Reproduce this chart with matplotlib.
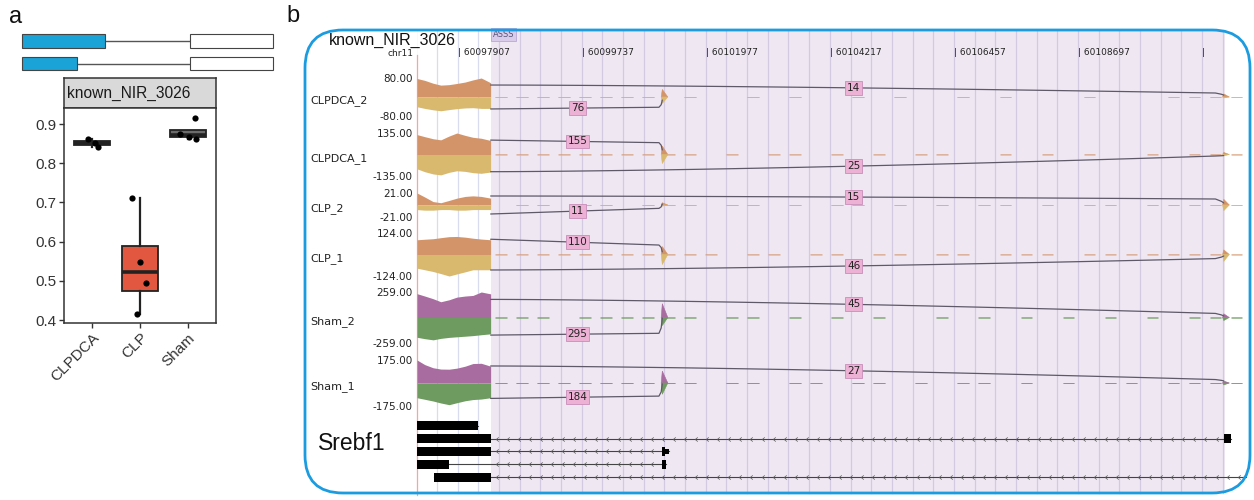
import numpy as np
import matplotlib
matplotlib.use("Agg")
import matplotlib.pyplot as plt
from matplotlib.patches import Rectangle, FancyBboxPatch
from matplotlib.path import Path

# ---------------- panel a: PSI values of known_NIR_3026 ----------------
groups = ["CLPDCA", "CLP", "Sham"]
psi_clpdca = [0.861, 0.851, 0.841]
psi_clp = [0.712, 0.549, 0.495, 0.416]
psi_sham = [0.874, 0.868, 0.863, 0.915]
jit_clpdca = [-0.08, 0.06, 0.13]
jit_clp = [-0.16, 0.0, 0.12, -0.07]
jit_sham = [-0.17, 0.02, 0.17, 0.15]
box_fill = ["#6B6B6B", "#E2573F", "#6B6B6B"]

# isoform sketch (relative coordinates): first exon (coding) and last exon
iso_first_exon = [(0, 83), (0, 55)]
iso_last_exon = [(168, 251), (168, 251)]

# ---------------- panel b: coverage / junction tracks ----------------
event_name = "known_NIR_3026"
chrom = "chr11"
win_start, win_end = 60096760, 60111750
donor_end = 60098090          # end of the alternative 5' splice region
acceptor_short = 60101190     # proximal acceptor
acceptor_long = 60111330      # distal acceptor (last exon)
tick_step = 2240
tick_labels = ["60097907", "60099737", "60101977", "60104217", "60106457", "60108697", ""]

samples = ["CLPDCA_2", "CLPDCA_1", "CLP_2", "CLP_1", "Sham_2", "Sham_1"]
scale_max = [80, 135, 21, 124, 259, 175]

exon_pos = [60096760, 60096900, 60097050, 60097190, 60097340,
            60097480, 60097630, 60097770, 60097920, 60098090]
cov_plus = [
    [78, 70, 58, 50, 52, 57, 63, 72, 80, 60],
    [125, 112, 99, 92, 116, 135, 120, 108, 102, 88],
    [21, 14, 6, 4, 8, 12, 15, 16, 15, 12],
    [85, 88, 91, 97, 103, 104, 100, 94, 89, 85],
    [242, 218, 191, 160, 180, 207, 218, 224, 259, 240],
    [175, 140, 116, 106, 105, 113, 128, 148, 150, 128],
]
cov_minus = [
    [41, 48, 54, 58, 53, 49, 46, 45, 48, 48],
    [90, 108, 122, 128, 112, 102, 106, 114, 118, 110],
    [8, 9, 9, 8, 8, 9, 9, 8, 8, 8],
    [79, 88, 98, 110, 124, 112, 100, 88, 88, 88],
    [201, 215, 227, 212, 202, 196, 190, 184, 175, 166],
    [112, 124, 137, 152, 165, 150, 135, 126, 122, 112],
]
# read depth over the intronic part of the window (36 equal bins)
intron_cov = [
    [1, 2, 1, 2, 1, 1, 2, 1, 0, 1, 0, 0, 1, 0, 1, 0, 0, 1, 0, 1, 0, 0, 1, 0, 1, 0, 0, 0, 1, 0, 0, 0, 1, 1, 2, 1],
    [2, 3, 2, 3, 2, 3, 2, 3, 1, 2, 0, 1, 0, 2, 1, 0, 1, 0, 2, 0, 1, 1, 0, 0, 1, 0, 1, 0, 1, 0, 0, 1, 0, 1, 2, 1],
    [0, 1, 1, 0, 1, 1, 0, 1, 1, 1, 0, 1, 1, 0, 1, 0, 1, 1, 0, 1, 0, 1, 0, 1, 1, 0, 1, 0, 1, 1, 0, 1, 1, 1, 1, 1],
    [2, 3, 2, 2, 3, 2, 2, 3, 1, 2, 1, 0, 2, 1, 0, 1, 1, 0, 2, 1, 0, 1, 1, 0, 2, 1, 1, 0, 2, 1, 1, 2, 2, 2, 3, 2],
    [3, 4, 3, 0, 3, 4, 3, 4, 2, 3, 0, 2, 3, 0, 2, 0, 3, 0, 2, 0, 0, 3, 0, 2, 0, 2, 0, 2, 0, 2, 0, 3, 0, 2, 3, 2],
    [3, 3, 2, 3, 3, 2, 3, 3, 2, 2, 0, 3, 2, 0, 2, 2, 0, 2, 3, 0, 2, 0, 2, 2, 0, 2, 0, 2, 0, 2, 2, 0, 2, 2, 3, 2],
]
peak_short_plus = [32, 53, 4, 46, 140, 91]
peak_short_minus = [27, 57, 2, 58, 82, 86]
peak_long_plus = [13, 13, 10, 27, 38, 15]
peak_long_minus = [4, 9, 10, 40, 31, 15]
junc_short_reads = [76, 155, 11, 110, 295, 184]
junc_long_reads = [14, 25, 15, 46, 45, 27]

gene_name = "Srebf1"
tx_exons = [
    [(60095000, 60097870)],
    [(60095000, 60098090), (60111330, 60111470)],
    [(60095000, 60098090), (60101190, 60101230)],
    [(60095000, 60097330), (60101190, 60101250)],
    [(60097070, 60098090)],
]
tx_utr = [[], [], [(60101230, 60101310)], [], []]
tx_span = [(60095000, 60097870), (60095000, 60111470), (60095000, 60101310),
           (60095000, 60101250), (60097070, 60114000)]

# ---------------- layout helpers ----------------
W, H = 1254, 500
fig = plt.figure(figsize=(W / 100, H / 100), dpi=100)
SANS = "Liberation Sans"
DJ = "DejaVu Sans"
INK = "#333333"


def axes_px(x0, y0, x1, y1):
    return fig.add_axes([x0 / W, 1 - y1 / H, (x1 - x0) / W, (y1 - y0) / H])


# ---------------- panel a ----------------
ax_iso = axes_px(22, 29.75, 273, 74.75)
ax_iso.set_xlim(0, 251)
ax_iso.set_ylim(1.5, -0.5)
ax_iso.axis("off")
for r in range(2):
    a0, a1 = iso_first_exon[r]
    b0, b1 = iso_last_exon[r]
    ax_iso.plot([a1, b0], [r, r], color="#555555", lw=1.0, zorder=1)
    ax_iso.add_patch(Rectangle((a0, r - 0.31), a1 - a0, 0.62, fc="#1AA3D6",
                               ec="#444444", lw=0.8, zorder=2, clip_on=False))
    ax_iso.add_patch(Rectangle((b0, r - 0.31), b1 - b0, 0.62, fc="white",
                               ec="#444444", lw=0.8, zorder=2, clip_on=False))

ax_strip = axes_px(64, 78, 216, 108)
ax_strip.set_facecolor("#D9D9D9")
ax_strip.set_xticks([])
ax_strip.set_yticks([])
for s in ax_strip.spines.values():
    s.set_color(INK)
    s.set_linewidth(1.1)
ax_strip.text(0.02, 0.48, event_name, transform=ax_strip.transAxes, ha="left",
              va="center", fontsize=11.2, family=SANS, color="#1A1A1A")

ax_box = axes_px(64, 108, 216, 323)
psi = [psi_clpdca, psi_clp, psi_sham]
jit = [jit_clpdca, jit_clp, jit_sham]
bp = ax_box.boxplot(psi, positions=[1, 2, 3], widths=0.75, patch_artist=True,
                    showfliers=False, whis=1.5,
                    medianprops=dict(color="#222222", lw=2.6),
                    boxprops=dict(edgecolor="#222222", lw=1.3),
                    whiskerprops=dict(color="#222222", lw=1.6),
                    capprops=dict(lw=0))
for patch, c in zip(bp["boxes"], box_fill):
    patch.set_facecolor(c)
for k in range(3):
    ax_box.scatter(np.array(jit[k]) + k + 1, psi[k], s=20, color="black",
                   zorder=5, lw=0)
ax_box.set_xlim(0.42, 3.58)
ax_box.set_ylim(0.3929, 0.9408)
ax_box.set_yticks([0.4, 0.5, 0.6, 0.7, 0.8, 0.9])
ax_box.set_yticklabels(["0.4", "0.5", "0.6", "0.7", "0.8", "0.9"],
                       fontsize=11, family=SANS, color=INK)
ax_box.set_xticks([1, 2, 3])
ax_box.set_xticklabels(groups, rotation=45, ha="right", va="top",
                       rotation_mode="anchor", fontsize=11, family=SANS, color=INK)
ax_box.tick_params(length=3.5, width=1.0, color=INK, pad=2)
for s in ax_box.spines.values():
    s.set_color(INK)
    s.set_linewidth(1.1)

# ---------------- panel b: background, ruler ----------------
ax_bg = axes_px(417, 29, 1247, 495)
ax_bg.set_xlim(win_start, win_end)
ax_bg.set_ylim(495, 29)
ax_bg.axis("off")
ax_bg.add_patch(Rectangle((donor_end, 30), acceptor_long + 20 - donor_end, 463,
                          fc="#EFE8F3", ec="none", zorder=0))
tick_pos = [acceptor_short - 3694 + tick_step * i for i in range(len(tick_labels))]
grid_x = np.arange(tick_pos[0] - 2 * tick_step / 6, acceptor_long, tick_step / 6)
for gx in grid_x:
    col = "#D9DBEE" if gx < donor_end else "#D3CAE2"
    ax_bg.plot([gx, gx], [30, 493], color=col, lw=0.9, zorder=1)
ax_bg.plot([win_start, win_start], [55, 495], color="#F2A7A7", lw=0.9,
           zorder=2, clip_on=False)
for tp, lab in zip(tick_pos, tick_labels):
    ax_bg.text(tp, 53, "| " + lab if lab else "|", ha="left", va="center",
               fontsize=6.5, family=DJ, color="#222222", zorder=3)
ax_bg.text(donor_end + 40, 34.5, "ASSS", ha="left", va="center", fontsize=6,
           family=DJ, color="#555577", zorder=3,
           bbox=dict(boxstyle="square,pad=0.25", fc="#D9CCEA", ec="#B9A9D6", lw=0.6))

# ---------------- coverage tracks ----------------
track_top = [78, 133, 193, 233, 292, 360]
track_bot = [116, 176, 217, 276, 343, 406]
palette = {"CLP": ("#D4946A", "#D8B96E"), "Sham": ("#A86CA0", "#6E9B5F")}
# junction geometry as fractions of the track half-height: (start, near end, end)
short_geom = [(-0.63, -0.54, -0.16), (0.67, 0.55, 0.21), (-0.75, -0.28, 0.08),
              (0.71, 0.44, 0.12), (-0.69, -0.62, -0.02), (-0.67, -0.57, -0.04)]
long_geom = [(0.63, 0.21, 0.10), (-0.80, -0.07, -0.05), (0.75, 0.50, 0.17),
             (-0.72, -0.19, -0.07), (0.71, 0.16, 0.06), (0.74, 0.15, 0.09)]
bpp = tick_step / 124.0
short_label_x = donor_end + 87 * bpp
long_label_x = donor_end + 363 * bpp
intron_edges = np.linspace(donor_end, win_end, len(intron_cov[0]) + 1)
JCOL = "#5E5868"

for i, name in enumerate(samples):
    ax = axes_px(417, track_top[i], 1247, track_bot[i])
    ax.patch.set_alpha(0)
    M = scale_max[i]
    ax.set_xlim(win_start, win_end)
    ax.set_ylim(-M, M)
    for s in ax.spines.values():
        s.set_visible(False)
    ax.set_xticks([])
    ax.set_yticks([M, -M])
    ax.set_yticklabels([f"{M:.2f}", f"{-M:.2f}"], fontsize=7.5, family=DJ,
                       color="#222222")
    ax.tick_params(axis="y", length=0, pad=3)
    up_c, lo_c = palette["Sham" if name.startswith("Sham") else "CLP"]

    ax.fill_between(exon_pos, 0, cov_plus[i], color=up_c, lw=0, zorder=2)
    ax.fill_between(exon_pos, 0, -np.array(cov_minus[i]), color=lo_c, lw=0, zorder=2)

    # sparse intronic reads: thin fragments hugging the baseline
    for b, v in enumerate(intron_cov[i]):
        if v <= 0:
            continue
        e0, e1 = intron_edges[b], intron_edges[b + 1]
        pad = (e1 - e0) * 0.22
        ax.plot([e0 + pad, e1 - pad], [v / 2, v / 2], color=up_c, lw=0.6,
                alpha=0.75, zorder=2, solid_capstyle="butt")
        ax.plot([e0 + pad, e1 - pad], [-v / 2, -v / 2], color=lo_c, lw=0.6,
                alpha=0.75, zorder=2, solid_capstyle="butt")

    for a, hp, hm in [(acceptor_short, peak_short_plus[i], peak_short_minus[i]),
                      (acceptor_long, peak_long_plus[i], peak_long_minus[i])]:
        xs = [a - 20, a, a + 100]
        ax.fill(xs + xs[::-1], [0, hp, 0, 0, 0, 0], color=up_c, lw=0.4, zorder=3)
        ax.fill(xs + xs[::-1], [0, -hm, 0, 0, 0, 0], color=lo_c, lw=0.4, zorder=3)

    # proximal junction (short)
    y0, y1, y2 = short_geom[i]
    xs = np.linspace(donor_end, acceptor_short - 60, 30)
    ys = np.interp(xs, [donor_end, acceptor_short - 60], [y0, y1])
    xs = np.r_[xs, acceptor_short - 20, acceptor_short]
    ys = np.r_[ys, y1 + 0.35 * (y2 - y1), y2]
    ax.plot(xs, ys * M, color=JCOL, lw=0.9, zorder=4, solid_capstyle="round")
    ly = np.interp(short_label_x, xs, ys) * M
    ax.text(short_label_x, ly, str(junc_short_reads[i]), ha="center", va="center",
            fontsize=7.5, family=DJ, color="#222222", zorder=6,
            bbox=dict(boxstyle="square,pad=0.18", fc="#EDB1D6", ec="#C98DB8", lw=0.6))

    # distal junction (long)
    y0, y1, y2 = long_geom[i]
    t = np.linspace(0, 1, 80)
    xs = donor_end + t * (acceptor_long - 150 - donor_end)
    ys = y0 + (y1 - y0) * t ** 1.5
    xs = np.r_[xs, acceptor_long - 40, acceptor_long]
    ys = np.r_[ys, y1 + 0.6 * (y2 - y1), y2]
    ax.plot(xs, ys * M, color=JCOL, lw=0.9, zorder=4, solid_capstyle="round")
    ly = np.interp(long_label_x, xs, ys) * M
    ax.text(long_label_x, ly, str(junc_long_reads[i]), ha="center", va="center",
            fontsize=7.5, family=DJ, color="#222222", zorder=6,
            bbox=dict(boxstyle="square,pad=0.18", fc="#EDB1D6", ec="#C98DB8", lw=0.6))

# ---------------- gene models ----------------
ax_g = axes_px(417, 418, 1247, 485)
ax_g.set_xlim(win_start, win_end)
ax_g.set_ylim(4.577, -0.577)
ax_g.axis("off")
chev = Path([(0.6, 1.0), (-0.6, 0.0), (0.6, -1.0)],
            [Path.MOVETO, Path.LINETO, Path.LINETO])
for r in range(len(tx_exons)):
    s0, s1 = tx_span[r]
    ax_g.plot([max(s0, win_start), min(s1, win_end)], [r, r], color="#444444",
              lw=0.8, zorder=1)
    marks = np.arange(donor_end + 110, min(s1, win_end), 200.0)
    inside = np.zeros(marks.shape, bool)
    for e0, e1 in tx_exons[r] + tx_utr[r]:
        inside |= (marks > e0 - 60) & (marks < e1 + 60)
    marks = marks[(~inside) & (marks > s0)]
    ax_g.plot(marks, np.full(marks.shape, r), ls="none", marker=chev, ms=3,
              mfc="none", mec="#555555", mew=0.5, zorder=2)
    for e0, e1 in tx_exons[r]:
        ax_g.add_patch(Rectangle((e0, r - 0.33), e1 - e0, 0.66, fc="black",
                                 ec="none", zorder=3))
    for e0, e1 in tx_utr[r]:
        ax_g.add_patch(Rectangle((e0, r - 0.2), e1 - e0, 0.4, fc="black",
                                 ec="none", zorder=3))

# ---------------- overlay: frame and labels ----------------
ov = fig.add_axes([0, 0, 1, 1])
ov.set_xlim(0, W)
ov.set_ylim(H, 0)
ov.axis("off")
ov.patch.set_alpha(0)
ov.text(16, 17, "a", ha="center", va="center", fontsize=17, family=SANS, color="#111111")
ov.text(293, 16, "b", ha="center", va="center", fontsize=17, family=SANS, color="#111111")
ov.add_patch(FancyBboxPatch((305, 30), 945, 463,
                            boxstyle="round,pad=0,rounding_size=38",
                            fc="none", ec="#1C9CE0", lw=2.0))
ov.text(329, 40, event_name, ha="left", va="center", fontsize=11.5, family=SANS,
        color="#111111")
ov.text(414, 53, chrom, ha="right", va="center", fontsize=6.5, family=DJ, color="#222222")
for i, name in enumerate(samples):
    base = (track_top[i] + track_bot[i]) / 2
    ov.text(310, base + 4, name, ha="left", va="center", fontsize=8, family=DJ,
            color="#222222")
ov.text(318, 444, gene_name, ha="left", va="center", fontsize=16.5, family=SANS,
        color="#111111")

fig.savefig("out.png", dpi=100)
